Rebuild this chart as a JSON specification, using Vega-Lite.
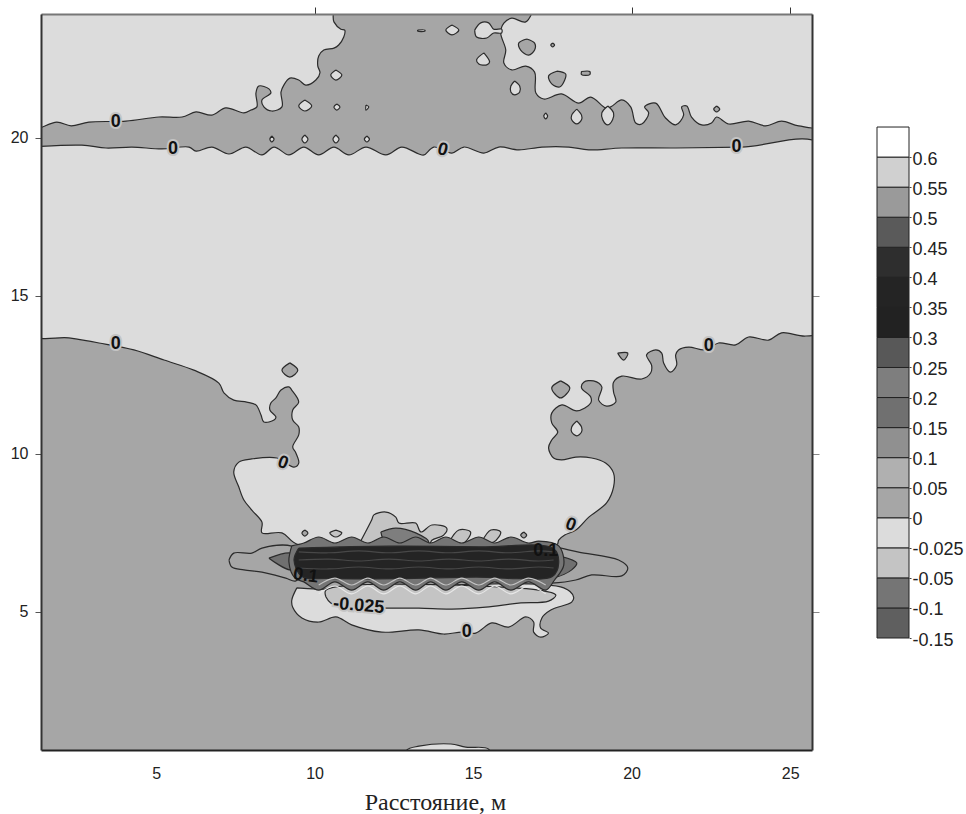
{"$schema":"https://vega.github.io/schema/vega-lite/v6.json","background":"white","padding":{"left":10,"top":6,"right":0,"bottom":0},"spacing":56,"config":{"view":{"stroke":null},"font":"Liberation Sans"},
"datasets":{
"polys":[
{"p":"A","b":"-0.025","x":1.0,"y":24.3},{"p":"A","b":"-0.025","x":10.48,"y":24.3},{"p":"A","b":"-0.025","x":10.61,"y":23.67},{"p":"A","b":"-0.025","x":10.83,"y":23.44},{"p":"A","b":"-0.025","x":10.95,"y":23.41},{"p":"A","b":"-0.025","x":10.92,"y":23.19},{"p":"A","b":"-0.025","x":10.76,"y":22.94},{"p":"A","b":"-0.025","x":10.61,"y":22.84},{"p":"A","b":"-0.025","x":10.29,"y":22.78},{"p":"A","b":"-0.025","x":10.13,"y":22.59},{"p":"A","b":"-0.025","x":10.10,"y":22.28},{"p":"A","b":"-0.025","x":10.17,"y":22.06},{"p":"A","b":"-0.025","x":10.04,"y":21.83},{"p":"A","b":"-0.025","x":9.72,"y":21.67},{"p":"A","b":"-0.025","x":9.50,"y":21.83},{"p":"A","b":"-0.025","x":9.22,"y":21.89},{"p":"A","b":"-0.025","x":9.03,"y":21.67},{"p":"A","b":"-0.025","x":8.94,"y":21.45},{"p":"A","b":"-0.025","x":8.97,"y":20.98},{"p":"A","b":"-0.025","x":8.65,"y":20.85},{"p":"A","b":"-0.025","x":8.40,"y":20.98},{"p":"A","b":"-0.025","x":8.34,"y":21.20},{"p":"A","b":"-0.025","x":8.62,"y":21.42},{"p":"A","b":"-0.025","x":8.56,"y":21.55},{"p":"A","b":"-0.025","x":8.24,"y":21.64},{"p":"A","b":"-0.025","x":8.15,"y":21.42},{"p":"A","b":"-0.025","x":8.18,"y":20.98},{"p":"A","b":"-0.025","x":7.99,"y":20.88},{"p":"A","b":"-0.025","x":7.77,"y":20.79},{"p":"A","b":"-0.025","x":7.20,"y":20.95},{"p":"A","b":"-0.025","x":6.76,"y":20.72},{"p":"A","b":"-0.025","x":6.26,"y":20.82},{"p":"A","b":"-0.025","x":5.82,"y":20.66},{"p":"A","b":"-0.025","x":5.09,"y":20.66},{"p":"A","b":"-0.025","x":4.05,"y":20.53},{"p":"A","b":"-0.025","x":2.88,"y":20.50},{"p":"A","b":"-0.025","x":2.32,"y":20.38},{"p":"A","b":"-0.025","x":1.87,"y":20.50},{"p":"A","b":"-0.025","x":1.0,"y":20.30},{"p":"A","b":"-0.025","x":1.0,"y":24.3},
{"p":"B","b":"-0.025","x":16.98,"y":24.3},{"p":"B","b":"-0.025","x":26.1,"y":24.3},{"p":"B","b":"-0.025","x":26.1,"y":20.41},{"p":"B","b":"-0.025","x":25.27,"y":20.38},{"p":"B","b":"-0.025","x":24.73,"y":20.53},{"p":"B","b":"-0.025","x":24.23,"y":20.38},{"p":"B","b":"-0.025","x":23.69,"y":20.53},{"p":"B","b":"-0.025","x":23.06,"y":20.44},{"p":"B","b":"-0.025","x":22.68,"y":20.66},{"p":"B","b":"-0.025","x":22.52,"y":20.47},{"p":"B","b":"-0.025","x":22.21,"y":20.41},{"p":"B","b":"-0.025","x":21.89,"y":20.66},{"p":"B","b":"-0.025","x":21.74,"y":21.01},{"p":"B","b":"-0.025","x":21.58,"y":20.98},{"p":"B","b":"-0.025","x":21.64,"y":20.72},{"p":"B","b":"-0.025","x":21.39,"y":20.41},{"p":"B","b":"-0.025","x":21.07,"y":20.63},{"p":"B","b":"-0.025","x":20.76,"y":21.10},{"p":"B","b":"-0.025","x":20.41,"y":20.98},{"p":"B","b":"-0.025","x":20.54,"y":20.79},{"p":"B","b":"-0.025","x":20.32,"y":20.44},{"p":"B","b":"-0.025","x":20.13,"y":20.47},{"p":"B","b":"-0.025","x":19.97,"y":20.98},{"p":"B","b":"-0.025","x":19.69,"y":21.20},{"p":"B","b":"-0.025","x":19.34,"y":20.98},{"p":"B","b":"-0.025","x":19.18,"y":20.95},{"p":"B","b":"-0.025","x":18.71,"y":21.29},{"p":"B","b":"-0.025","x":18.33,"y":21.10},{"p":"B","b":"-0.025","x":17.79,"y":21.39},{"p":"B","b":"-0.025","x":17.23,"y":21.23},{"p":"B","b":"-0.025","x":16.98,"y":21.42},{"p":"B","b":"-0.025","x":16.94,"y":22.08},{"p":"B","b":"-0.025","x":16.66,"y":22.27},{"p":"B","b":"-0.025","x":16.22,"y":22.15},{"p":"B","b":"-0.025","x":15.97,"y":22.37},{"p":"B","b":"-0.025","x":16.03,"y":22.78},{"p":"B","b":"-0.025","x":15.87,"y":23.32},{"p":"B","b":"-0.025","x":15.97,"y":23.63},{"p":"B","b":"-0.025","x":16.22,"y":23.79},{"p":"B","b":"-0.025","x":16.66,"y":23.67},{"p":"B","b":"-0.025","x":16.98,"y":24.3},
{"p":"C","b":"-0.025","x":1.0,"y":19.71},{"p":"C","b":"-0.025","x":2.66,"y":19.77},{"p":"C","b":"-0.025","x":3.42,"y":19.68},{"p":"C","b":"-0.025","x":4.24,"y":19.71},{"p":"C","b":"-0.025","x":5.18,"y":19.65},{"p":"C","b":"-0.025","x":6.04,"y":19.71},{"p":"C","b":"-0.025","x":6.26,"y":19.58},{"p":"C","b":"-0.025","x":6.76,"y":19.71},{"p":"C","b":"-0.025","x":7.30,"y":19.49},{"p":"C","b":"-0.025","x":7.83,"y":19.71},{"p":"C","b":"-0.025","x":8.34,"y":19.46},{"p":"C","b":"-0.025","x":8.72,"y":19.71},{"p":"C","b":"-0.025","x":9.19,"y":19.46},{"p":"C","b":"-0.025","x":9.66,"y":19.71},{"p":"C","b":"-0.025","x":10.13,"y":19.46},{"p":"C","b":"-0.025","x":10.61,"y":19.71},{"p":"C","b":"-0.025","x":11.08,"y":19.46},{"p":"C","b":"-0.025","x":11.62,"y":19.71},{"p":"C","b":"-0.025","x":12.25,"y":19.46},{"p":"C","b":"-0.025","x":12.75,"y":19.71},{"p":"C","b":"-0.025","x":13.29,"y":19.49},{"p":"C","b":"-0.025","x":13.45,"y":19.46},{"p":"C","b":"-0.025","x":13.76,"y":19.71},{"p":"C","b":"-0.025","x":14.33,"y":19.52},{"p":"C","b":"-0.025","x":14.71,"y":19.71},{"p":"C","b":"-0.025","x":15.34,"y":19.52},{"p":"C","b":"-0.025","x":15.81,"y":19.71},{"p":"C","b":"-0.025","x":16.44,"y":19.62},{"p":"C","b":"-0.025","x":17.17,"y":19.71},{"p":"C","b":"-0.025","x":18.02,"y":19.71},{"p":"C","b":"-0.025","x":18.65,"y":19.62},{"p":"C","b":"-0.025","x":19.69,"y":19.68},{"p":"C","b":"-0.025","x":21.39,"y":19.68},{"p":"C","b":"-0.025","x":23.47,"y":19.71},{"p":"C","b":"-0.025","x":26.1,"y":19.74},{"p":"C","b":"-0.025","x":26.1,"y":13.92},{"p":"C","b":"-0.025","x":25.49,"y":13.73},{"p":"C","b":"-0.025","x":24.73,"y":13.83},{"p":"C","b":"-0.025","x":24.32,"y":13.60},{"p":"C","b":"-0.025","x":23.69,"y":13.70},{"p":"C","b":"-0.025","x":23.28,"y":13.45},{"p":"C","b":"-0.025","x":22.74,"y":13.51},{"p":"C","b":"-0.025","x":22.33,"y":13.29},{"p":"C","b":"-0.025","x":21.80,"y":13.38},{"p":"C","b":"-0.025","x":21.48,"y":13.29},{"p":"C","b":"-0.025","x":21.39,"y":13.13},{"p":"C","b":"-0.025","x":21.42,"y":12.81},{"p":"C","b":"-0.025","x":21.23,"y":12.59},{"p":"C","b":"-0.025","x":21.01,"y":12.88},{"p":"C","b":"-0.025","x":20.95,"y":13.19},{"p":"C","b":"-0.025","x":20.76,"y":13.29},{"p":"C","b":"-0.025","x":20.47,"y":13.13},{"p":"C","b":"-0.025","x":20.63,"y":12.81},{"p":"C","b":"-0.025","x":20.60,"y":12.56},{"p":"C","b":"-0.025","x":20.32,"y":12.37},{"p":"C","b":"-0.025","x":19.69,"y":12.46},{"p":"C","b":"-0.025","x":19.43,"y":12.27},{"p":"C","b":"-0.025","x":19.43,"y":11.96},{"p":"C","b":"-0.025","x":19.50,"y":11.64},{"p":"C","b":"-0.025","x":19.21,"y":11.51},{"p":"C","b":"-0.025","x":18.96,"y":11.70},{"p":"C","b":"-0.025","x":19.06,"y":12.12},{"p":"C","b":"-0.025","x":18.80,"y":12.31},{"p":"C","b":"-0.025","x":18.49,"y":12.27},{"p":"C","b":"-0.025","x":18.42,"y":12.09},{"p":"C","b":"-0.025","x":18.71,"y":11.80},{"p":"C","b":"-0.025","x":18.71,"y":11.61},{"p":"C","b":"-0.025","x":18.27,"y":11.36},{"p":"C","b":"-0.025","x":17.80,"y":11.55},{"p":"C","b":"-0.025","x":17.48,"y":11.29},{"p":"C","b":"-0.025","x":17.48,"y":10.98},{"p":"C","b":"-0.025","x":17.67,"y":10.69},{"p":"C","b":"-0.025","x":17.48,"y":10.44},{"p":"C","b":"-0.025","x":17.38,"y":10.19},{"p":"C","b":"-0.025","x":17.54,"y":9.87},{"p":"C","b":"-0.025","x":17.79,"y":9.81},{"p":"C","b":"-0.025","x":18.24,"y":9.90},{"p":"C","b":"-0.025","x":18.74,"y":9.87},{"p":"C","b":"-0.025","x":19.18,"y":9.71},{"p":"C","b":"-0.025","x":19.43,"y":9.39},{"p":"C","b":"-0.025","x":19.43,"y":8.95},{"p":"C","b":"-0.025","x":19.21,"y":8.45},{"p":"C","b":"-0.025","x":18.65,"y":8.00},{"p":"C","b":"-0.025","x":18.24,"y":7.59},{"p":"C","b":"-0.025","x":17.89,"y":7.43},{"p":"C","b":"-0.025","x":17.70,"y":7.27},{"p":"C","b":"-0.025","x":17.64,"y":7.12},{"p":"C","b":"-0.025","x":9.50,"y":7.12},{"p":"C","b":"-0.025","x":8.97,"y":7.50},{"p":"C","b":"-0.025","x":8.34,"y":7.50},{"p":"C","b":"-0.025","x":8.34,"y":7.84},{"p":"C","b":"-0.025","x":8.02,"y":8.22},{"p":"C","b":"-0.025","x":7.77,"y":8.54},{"p":"C","b":"-0.025","x":7.61,"y":8.95},{"p":"C","b":"-0.025","x":7.45,"y":9.43},{"p":"C","b":"-0.025","x":7.61,"y":9.74},{"p":"C","b":"-0.025","x":8.02,"y":9.84},{"p":"C","b":"-0.025","x":8.81,"y":9.87},{"p":"C","b":"-0.025","x":9.35,"y":9.58},{"p":"C","b":"-0.025","x":9.50,"y":9.71},{"p":"C","b":"-0.025","x":9.41,"y":10.03},{"p":"C","b":"-0.025","x":9.31,"y":10.22},{"p":"C","b":"-0.025","x":9.50,"y":10.60},{"p":"C","b":"-0.025","x":9.50,"y":10.85},{"p":"C","b":"-0.025","x":9.31,"y":11.07},{"p":"C","b":"-0.025","x":9.31,"y":11.39},{"p":"C","b":"-0.025","x":9.50,"y":11.64},{"p":"C","b":"-0.025","x":9.28,"y":12.02},{"p":"C","b":"-0.025","x":9.19,"y":12.12},{"p":"C","b":"-0.025","x":8.94,"y":12.02},{"p":"C","b":"-0.025","x":8.78,"y":11.77},{"p":"C","b":"-0.025","x":8.62,"y":11.61},{"p":"C","b":"-0.025","x":8.59,"y":11.39},{"p":"C","b":"-0.025","x":8.78,"y":11.17},{"p":"C","b":"-0.025","x":8.72,"y":11.07},{"p":"C","b":"-0.025","x":8.40,"y":11.01},{"p":"C","b":"-0.025","x":8.31,"y":11.23},{"p":"C","b":"-0.025","x":8.15,"y":11.55},{"p":"C","b":"-0.025","x":7.86,"y":11.64},{"p":"C","b":"-0.025","x":7.45,"y":11.70},{"p":"C","b":"-0.025","x":7.14,"y":11.93},{"p":"C","b":"-0.025","x":6.98,"y":12.24},{"p":"C","b":"-0.025","x":6.19,"y":12.65},{"p":"C","b":"-0.025","x":5.25,"y":12.97},{"p":"C","b":"-0.025","x":4.30,"y":13.29},{"p":"C","b":"-0.025","x":3.20,"y":13.51},{"p":"C","b":"-0.025","x":2.25,"y":13.67},{"p":"C","b":"-0.025","x":1.0,"y":13.83},{"p":"C","b":"-0.025","x":1.0,"y":19.71},
{"p":"b1","b":"-0.025","x":15.05,"y":23.41},{"p":"b1","b":"-0.025","x":15.24,"y":23.64},{"p":"b1","b":"-0.025","x":15.49,"y":23.64},{"p":"b1","b":"-0.025","x":15.65,"y":23.44},{"p":"b1","b":"-0.025","x":15.90,"y":23.44},{"p":"b1","b":"-0.025","x":15.90,"y":23.32},{"p":"b1","b":"-0.025","x":15.65,"y":23.32},{"p":"b1","b":"-0.025","x":15.43,"y":23.16},{"p":"b1","b":"-0.025","x":15.11,"y":23.19},{"p":"b1","b":"-0.025","x":15.05,"y":23.41},
{"p":"b2","b":"-0.025","x":14.33,"y":23.57},{"p":"b2","b":"-0.025","x":14.55,"y":23.41},{"p":"b2","b":"-0.025","x":14.33,"y":23.26},{"p":"b2","b":"-0.025","x":14.14,"y":23.41},{"p":"b2","b":"-0.025","x":14.33,"y":23.57},
{"p":"b3","b":"-0.025","x":15.34,"y":22.69},{"p":"b3","b":"-0.025","x":15.52,"y":22.40},{"p":"b3","b":"-0.025","x":15.43,"y":22.31},{"p":"b3","b":"-0.025","x":15.18,"y":22.34},{"p":"b3","b":"-0.025","x":15.11,"y":22.47},{"p":"b3","b":"-0.025","x":15.34,"y":22.69},
{"p":"b4","b":"-0.025","x":16.31,"y":21.80},{"p":"b4","b":"-0.025","x":16.47,"y":21.64},{"p":"b4","b":"-0.025","x":16.47,"y":21.45},{"p":"b4","b":"-0.025","x":16.31,"y":21.36},{"p":"b4","b":"-0.025","x":16.19,"y":21.45},{"p":"b4","b":"-0.025","x":16.19,"y":21.64},{"p":"b4","b":"-0.025","x":16.31,"y":21.80},
{"p":"b5","b":"-0.025","x":18.27,"y":20.91},{"p":"b5","b":"-0.025","x":18.42,"y":20.72},{"p":"b5","b":"-0.025","x":18.42,"y":20.57},{"p":"b5","b":"-0.025","x":18.27,"y":20.44},{"p":"b5","b":"-0.025","x":18.11,"y":20.57},{"p":"b5","b":"-0.025","x":18.11,"y":20.72},{"p":"b5","b":"-0.025","x":18.27,"y":20.91},
{"p":"b6","b":"-0.025","x":19.25,"y":21.01},{"p":"b6","b":"-0.025","x":19.43,"y":20.79},{"p":"b6","b":"-0.025","x":19.40,"y":20.57},{"p":"b6","b":"-0.025","x":19.25,"y":20.41},{"p":"b6","b":"-0.025","x":19.09,"y":20.57},{"p":"b6","b":"-0.025","x":19.06,"y":20.79},{"p":"b6","b":"-0.025","x":19.25,"y":21.01},
{"p":"b7","b":"-0.025","x":10.67,"y":22.15},{"p":"b7","b":"-0.025","x":10.86,"y":21.99},{"p":"b7","b":"-0.025","x":10.67,"y":21.83},{"p":"b7","b":"-0.025","x":10.51,"y":21.99},{"p":"b7","b":"-0.025","x":10.67,"y":22.15},
{"p":"b8","b":"-0.025","x":9.69,"y":21.20},{"p":"b8","b":"-0.025","x":9.91,"y":21.01},{"p":"b8","b":"-0.025","x":9.69,"y":20.85},{"p":"b8","b":"-0.025","x":9.50,"y":21.01},{"p":"b8","b":"-0.025","x":9.69,"y":21.20},
{"p":"b9","b":"-0.025","x":10.70,"y":21.07},{"p":"b9","b":"-0.025","x":10.80,"y":20.98},{"p":"b9","b":"-0.025","x":10.70,"y":20.88},{"p":"b9","b":"-0.025","x":10.61,"y":20.98},{"p":"b9","b":"-0.025","x":10.70,"y":21.07},
{"p":"b11","b":"-0.025","x":11.62,"y":21.04},{"p":"b11","b":"-0.025","x":11.71,"y":20.98},{"p":"b11","b":"-0.025","x":11.62,"y":20.88},{"p":"b11","b":"-0.025","x":11.62,"y":21.04},
{"p":"b12","b":"-0.025","x":8.65,"y":20.06},{"p":"b12","b":"-0.025","x":8.72,"y":19.96},{"p":"b12","b":"-0.025","x":8.65,"y":19.87},{"p":"b12","b":"-0.025","x":8.59,"y":19.96},{"p":"b12","b":"-0.025","x":8.65,"y":20.06},
{"p":"b13","b":"-0.025","x":9.69,"y":20.09},{"p":"b13","b":"-0.025","x":9.79,"y":19.96},{"p":"b13","b":"-0.025","x":9.69,"y":19.84},{"p":"b13","b":"-0.025","x":9.60,"y":19.96},{"p":"b13","b":"-0.025","x":9.69,"y":20.09},
{"p":"b14","b":"-0.025","x":10.67,"y":20.09},{"p":"b14","b":"-0.025","x":10.77,"y":19.96},{"p":"b14","b":"-0.025","x":10.67,"y":19.84},{"p":"b14","b":"-0.025","x":10.58,"y":19.96},{"p":"b14","b":"-0.025","x":10.67,"y":20.09},
{"p":"b15","b":"-0.025","x":11.65,"y":20.06},{"p":"b15","b":"-0.025","x":11.73,"y":19.96},{"p":"b15","b":"-0.025","x":11.65,"y":19.87},{"p":"b15","b":"-0.025","x":11.57,"y":19.96},{"p":"b15","b":"-0.025","x":11.65,"y":20.06},
{"p":"lens","b":"-0.025","x":12.91,"y":0.3},{"p":"lens","b":"-0.025","x":12.91,"y":0.63},{"p":"lens","b":"-0.025","x":13.29,"y":0.75},{"p":"lens","b":"-0.025","x":14.30,"y":0.82},{"p":"lens","b":"-0.025","x":14.77,"y":0.72},{"p":"lens","b":"-0.025","x":15.49,"y":0.66},{"p":"lens","b":"-0.025","x":15.49,"y":0.3},
{"p":"g1","b":"0","x":16.69,"y":23.13},{"p":"g1","b":"0","x":16.94,"y":23.00},{"p":"g1","b":"0","x":16.94,"y":22.78},{"p":"g1","b":"0","x":16.75,"y":22.62},{"p":"g1","b":"0","x":16.50,"y":22.78},{"p":"g1","b":"0","x":16.44,"y":23.00},{"p":"g1","b":"0","x":16.69,"y":23.13},
{"p":"g2","b":"0","x":17.64,"y":22.11},{"p":"g2","b":"0","x":17.92,"y":22.02},{"p":"g2","b":"0","x":17.89,"y":21.83},{"p":"g2","b":"0","x":17.73,"y":21.61},{"p":"g2","b":"0","x":17.48,"y":21.71},{"p":"g2","b":"0","x":17.38,"y":21.96},{"p":"g2","b":"0","x":17.64,"y":22.11},
{"p":"g3","b":"0","x":17.51,"y":23.00},{"p":"g3","b":"0","x":17.57,"y":22.94},{"p":"g3","b":"0","x":17.51,"y":22.88},{"p":"g3","b":"0","x":17.45,"y":22.94},{"p":"g3","b":"0","x":17.51,"y":23.00},
{"p":"g4","b":"0","x":18.42,"y":22.10},{"p":"g4","b":"0","x":18.68,"y":22.10},{"p":"g4","b":"0","x":18.68,"y":22.00},{"p":"g4","b":"0","x":18.42,"y":22.00},{"p":"g4","b":"0","x":18.42,"y":22.10},
{"p":"g5","b":"0","x":22.68,"y":21.01},{"p":"g5","b":"0","x":22.78,"y":20.91},{"p":"g5","b":"0","x":22.68,"y":20.82},{"p":"g5","b":"0","x":22.59,"y":20.91},{"p":"g5","b":"0","x":22.68,"y":21.01},
{"p":"g6","b":"-0.025","x":13.25,"y":23.41},{"p":"g6","b":"-0.025","x":13.48,"y":23.41},{"p":"g6","b":"-0.025","x":13.48,"y":23.38},{"p":"g6","b":"-0.025","x":13.25,"y":23.38},{"p":"g6","b":"-0.025","x":13.25,"y":23.41},
{"p":"g7","b":"-0.025","x":17.29,"y":20.79},{"p":"g7","b":"-0.025","x":17.35,"y":20.69},{"p":"g7","b":"-0.025","x":17.29,"y":20.60},{"p":"g7","b":"-0.025","x":17.23,"y":20.69},{"p":"g7","b":"-0.025","x":17.29,"y":20.79},
{"p":"d1","b":"0","x":9.22,"y":12.88},{"p":"d1","b":"0","x":9.47,"y":12.65},{"p":"d1","b":"0","x":9.22,"y":12.43},{"p":"d1","b":"0","x":8.97,"y":12.65},{"p":"d1","b":"0","x":9.22,"y":12.88},
{"p":"d2","b":"0","x":19.56,"y":13.19},{"p":"d2","b":"0","x":19.88,"y":13.19},{"p":"d2","b":"0","x":19.75,"y":12.97},{"p":"d2","b":"0","x":19.56,"y":13.19},
{"p":"d3","b":"0","x":17.76,"y":12.31},{"p":"d3","b":"0","x":18.05,"y":12.09},{"p":"d3","b":"0","x":17.76,"y":11.77},{"p":"d3","b":"0","x":17.48,"y":12.09},{"p":"d3","b":"0","x":17.76,"y":12.31},
{"p":"d4","b":"-0.025","x":18.27,"y":11.04},{"p":"d4","b":"-0.025","x":18.42,"y":10.85},{"p":"d4","b":"-0.025","x":18.42,"y":10.69},{"p":"d4","b":"-0.025","x":18.27,"y":10.57},{"p":"d4","b":"-0.025","x":18.11,"y":10.69},{"p":"d4","b":"-0.025","x":18.11,"y":10.85},{"p":"d4","b":"-0.025","x":18.27,"y":11.04},
{"p":"L1","b":"0","x":7.30,"y":6.64},{"p":"L1","b":"0","x":7.45,"y":6.86},{"p":"L1","b":"0","x":8.02,"y":6.86},{"p":"L1","b":"0","x":8.34,"y":7.02},{"p":"L1","b":"0","x":9.28,"y":7.08},{"p":"L1","b":"0","x":9.82,"y":6.64},{"p":"L1","b":"0","x":9.41,"y":5.98},{"p":"L1","b":"0","x":9.09,"y":6.07},{"p":"L1","b":"0","x":8.34,"y":6.26},{"p":"L1","b":"0","x":7.77,"y":6.33},{"p":"L1","b":"0","x":7.39,"y":6.42},{"p":"L1","b":"0","x":7.30,"y":6.64},
{"p":"L2","b":"0.15","x":8.56,"y":6.70},{"p":"L2","b":"0.15","x":9.25,"y":6.86},{"p":"L2","b":"0.15","x":9.50,"y":6.64},{"p":"L2","b":"0.15","x":9.28,"y":6.33},{"p":"L2","b":"0.15","x":8.56,"y":6.70},
{"p":"R1","b":"0","x":17.07,"y":7.12},{"p":"R1","b":"0","x":17.61,"y":7.05},{"p":"R1","b":"0","x":18.33,"y":6.89},{"p":"R1","b":"0","x":19.59,"y":6.64},{"p":"R1","b":"0","x":19.88,"y":6.39},{"p":"R1","b":"0","x":19.69,"y":6.14},{"p":"R1","b":"0","x":18.74,"y":6.17},{"p":"R1","b":"0","x":18.24,"y":6.01},{"p":"R1","b":"0","x":17.48,"y":5.91},{"p":"R1","b":"0","x":17.07,"y":5.91},{"p":"R1","b":"0","x":17.07,"y":7.12},
{"p":"R2","b":"0.15","x":17.38,"y":6.86},{"p":"R2","b":"0.15","x":17.61,"y":6.80},{"p":"R2","b":"0.15","x":18.27,"y":6.55},{"p":"R2","b":"0.15","x":18.11,"y":6.33},{"p":"R2","b":"0.15","x":17.61,"y":6.10},{"p":"R2","b":"0.15","x":17.38,"y":6.10},{"p":"R2","b":"0.15","x":17.38,"y":6.86},
{"p":"D","b":"-0.025","x":9.44,"y":5.76},{"p":"D","b":"-0.025","x":10.13,"y":5.72},{"p":"D","b":"-0.025","x":17.86,"y":5.76},{"p":"D","b":"-0.025","x":18.17,"y":5.47},{"p":"D","b":"-0.025","x":18.11,"y":5.31},{"p":"D","b":"-0.025","x":17.45,"y":5.06},{"p":"D","b":"-0.025","x":17.17,"y":4.81},{"p":"D","b":"-0.025","x":17.13,"y":4.49},{"p":"D","b":"-0.025","x":17.38,"y":4.33},{"p":"D","b":"-0.025","x":17.13,"y":4.20},{"p":"D","b":"-0.025","x":16.91,"y":4.36},{"p":"D","b":"-0.025","x":16.91,"y":4.68},{"p":"D","b":"-0.025","x":16.66,"y":4.84},{"p":"D","b":"-0.025","x":16.12,"y":4.52},{"p":"D","b":"-0.025","x":15.59,"y":4.65},{"p":"D","b":"-0.025","x":15.08,"y":4.33},{"p":"D","b":"-0.025","x":14.64,"y":4.36},{"p":"D","b":"-0.025","x":14.07,"y":4.30},{"p":"D","b":"-0.025","x":13.29,"y":4.43},{"p":"D","b":"-0.025","x":12.12,"y":4.36},{"p":"D","b":"-0.025","x":11.17,"y":4.59},{"p":"D","b":"-0.025","x":10.67,"y":4.84},{"p":"D","b":"-0.025","x":10.13,"y":4.68},{"p":"D","b":"-0.025","x":9.60,"y":4.81},{"p":"D","b":"-0.025","x":9.31,"y":5.15},{"p":"D","b":"-0.025","x":9.28,"y":5.37},{"p":"D","b":"-0.025","x":9.44,"y":5.76},
{"p":"E","b":"-0.05","x":10.36,"y":5.47},{"p":"E","b":"-0.05","x":10.51,"y":5.28},{"p":"E","b":"-0.05","x":11.08,"y":5.15},{"p":"E","b":"-0.05","x":12.25,"y":5.12},{"p":"E","b":"-0.05","x":13.29,"y":5.12},{"p":"E","b":"-0.05","x":14.33,"y":5.09},{"p":"E","b":"-0.05","x":15.40,"y":5.15},{"p":"E","b":"-0.05","x":16.44,"y":5.28},{"p":"E","b":"-0.05","x":17.38,"y":5.34},{"p":"E","b":"-0.05","x":17.61,"y":5.53},{"p":"E","b":"-0.05","x":17.07,"y":5.69},{"p":"E","b":"-0.05","x":10.36,"y":5.69},{"p":"E","b":"-0.05","x":10.36,"y":5.47},
{"p":"T1","b":"-0.05","x":11.39,"y":7.12},{"p":"T1","b":"-0.05","x":11.80,"y":7.91},{"p":"T1","b":"-0.05","x":11.87,"y":8.07},{"p":"T1","b":"-0.05","x":12.25,"y":8.16},{"p":"T1","b":"-0.05","x":12.56,"y":8.00},{"p":"T1","b":"-0.05","x":12.66,"y":7.81},{"p":"T1","b":"-0.05","x":13.19,"y":7.81},{"p":"T1","b":"-0.05","x":13.35,"y":7.53},{"p":"T1","b":"-0.05","x":13.70,"y":7.75},{"p":"T1","b":"-0.05","x":14.17,"y":7.65},{"p":"T1","b":"-0.05","x":14.07,"y":7.43},{"p":"T1","b":"-0.05","x":13.70,"y":7.27},{"p":"T1","b":"-0.05","x":13.60,"y":7.12},{"p":"T1","b":"-0.05","x":11.39,"y":7.12},
{"p":"T2","b":"0.2","x":12.09,"y":7.53},{"p":"T2","b":"0.2","x":12.56,"y":7.65},{"p":"T2","b":"0.2","x":13.19,"y":7.50},{"p":"T2","b":"0.2","x":13.60,"y":7.21},{"p":"T2","b":"0.2","x":13.29,"y":7.02},{"p":"T2","b":"0.2","x":12.25,"y":7.18},{"p":"T2","b":"0.2","x":12.09,"y":7.53},
{"p":"T3","b":"-0.05","x":14.23,"y":7.18},{"p":"T3","b":"-0.05","x":14.55,"y":7.59},{"p":"T3","b":"-0.05","x":14.92,"y":7.53},{"p":"T3","b":"-0.05","x":14.71,"y":7.18},{"p":"T3","b":"-0.05","x":14.23,"y":7.18},
{"p":"T4","b":"-0.05","x":15.27,"y":7.21},{"p":"T4","b":"-0.05","x":15.56,"y":7.59},{"p":"T4","b":"-0.05","x":15.87,"y":7.53},{"p":"T4","b":"-0.05","x":15.65,"y":7.21},{"p":"T4","b":"-0.05","x":15.27,"y":7.21},
{"p":"T5","b":"0","x":16.60,"y":7.53},{"p":"T5","b":"0","x":16.69,"y":7.43},{"p":"T5","b":"0","x":16.60,"y":7.34},{"p":"T5","b":"0","x":16.50,"y":7.43},{"p":"T5","b":"0","x":16.60,"y":7.53},
{"p":"T6","b":"-0.05","x":10.67,"y":7.59},{"p":"T6","b":"-0.05","x":10.86,"y":7.50},{"p":"T6","b":"-0.05","x":10.67,"y":7.37},{"p":"T6","b":"-0.05","x":10.48,"y":7.50},{"p":"T6","b":"-0.05","x":10.67,"y":7.59},
{"p":"T7","b":"0","x":9.69,"y":7.59},{"p":"T7","b":"0","x":9.79,"y":7.50},{"p":"T7","b":"0","x":9.69,"y":7.40},{"p":"T7","b":"0","x":9.60,"y":7.50},{"p":"T7","b":"0","x":9.69,"y":7.59},
{"p":"H1","b":"-0.1","x":9.28,"y":7.09},{"p":"H1","b":"-0.1","x":9.66,"y":7.18},{"p":"H1","b":"-0.1","x":10.13,"y":7.37},{"p":"H1","b":"-0.1","x":10.64,"y":7.18},{"p":"H1","b":"-0.1","x":11.17,"y":7.37},{"p":"H1","b":"-0.1","x":11.68,"y":7.18},{"p":"H1","b":"-0.1","x":12.18,"y":7.37},{"p":"H1","b":"-0.1","x":12.69,"y":7.18},{"p":"H1","b":"-0.1","x":13.19,"y":7.37},{"p":"H1","b":"-0.1","x":13.66,"y":7.18},{"p":"H1","b":"-0.1","x":14.14,"y":7.37},{"p":"H1","b":"-0.1","x":14.64,"y":7.18},{"p":"H1","b":"-0.1","x":15.18,"y":7.37},{"p":"H1","b":"-0.1","x":15.68,"y":7.18},{"p":"H1","b":"-0.1","x":16.19,"y":7.37},{"p":"H1","b":"-0.1","x":16.75,"y":7.18},{"p":"H1","b":"-0.1","x":17.07,"y":7.24},{"p":"H1","b":"-0.1","x":17.70,"y":7.09},{"p":"H1","b":"-0.1","x":17.86,"y":6.48},{"p":"H1","b":"-0.1","x":17.57,"y":6.01},{"p":"H1","b":"-0.1","x":17.29,"y":5.69},{"p":"H1","b":"-0.1","x":16.75,"y":5.95},{"p":"H1","b":"-0.1","x":16.19,"y":5.69},{"p":"H1","b":"-0.1","x":15.68,"y":5.95},{"p":"H1","b":"-0.1","x":15.18,"y":5.69},{"p":"H1","b":"-0.1","x":14.64,"y":5.95},{"p":"H1","b":"-0.1","x":14.14,"y":5.69},{"p":"H1","b":"-0.1","x":13.66,"y":5.95},{"p":"H1","b":"-0.1","x":13.19,"y":5.69},{"p":"H1","b":"-0.1","x":12.69,"y":5.95},{"p":"H1","b":"-0.1","x":12.18,"y":5.69},{"p":"H1","b":"-0.1","x":11.68,"y":5.95},{"p":"H1","b":"-0.1","x":11.17,"y":5.69},{"p":"H1","b":"-0.1","x":10.64,"y":5.95},{"p":"H1","b":"-0.1","x":10.13,"y":5.69},{"p":"H1","b":"-0.1","x":9.66,"y":5.95},{"p":"H1","b":"-0.1","x":9.38,"y":6.07},{"p":"H1","b":"-0.1","x":9.19,"y":6.58},{"p":"H1","b":"-0.1","x":9.28,"y":7.09},
{"p":"K","b":"0.35","x":9.50,"y":7.02},{"p":"K","b":"0.35","x":12.34,"y":7.08},{"p":"K","b":"0.35","x":15.18,"y":7.06},{"p":"K","b":"0.35","x":17.54,"y":7.00},{"p":"K","b":"0.35","x":17.70,"y":6.55},{"p":"K","b":"0.35","x":17.50,"y":6.12},{"p":"K","b":"0.35","x":16.44,"y":6.05},{"p":"K","b":"0.35","x":15.18,"y":6.10},{"p":"K","b":"0.35","x":12.66,"y":6.05},{"p":"K","b":"0.35","x":10.45,"y":6.06},{"p":"K","b":"0.35","x":9.60,"y":6.12},{"p":"K","b":"0.35","x":9.35,"y":6.64},{"p":"K","b":"0.35","x":9.50,"y":7.02}
],
"lines":[
{"p":"s1","b":"-0.025","x":17.29,"y":5.57},{"p":"s1","b":"-0.025","x":16.75,"y":5.82},{"p":"s1","b":"-0.025","x":16.19,"y":5.57},{"p":"s1","b":"-0.025","x":15.68,"y":5.82},{"p":"s1","b":"-0.025","x":15.18,"y":5.57},{"p":"s1","b":"-0.025","x":14.64,"y":5.82},{"p":"s1","b":"-0.025","x":14.14,"y":5.57},{"p":"s1","b":"-0.025","x":13.66,"y":5.82},{"p":"s1","b":"-0.025","x":13.19,"y":5.57},{"p":"s1","b":"-0.025","x":12.69,"y":5.82},{"p":"s1","b":"-0.025","x":12.18,"y":5.57},{"p":"s1","b":"-0.025","x":11.68,"y":5.82},{"p":"s1","b":"-0.025","x":11.17,"y":5.57},{"p":"s1","b":"-0.025","x":10.64,"y":5.82},{"p":"s1","b":"-0.025","x":10.13,"y":5.57},
{"p":"s2","b":"-0.05","x":17.29,"y":5.85},{"p":"s2","b":"-0.05","x":16.75,"y":6.07},{"p":"s2","b":"-0.05","x":16.19,"y":5.85},{"p":"s2","b":"-0.05","x":15.68,"y":6.07},{"p":"s2","b":"-0.05","x":15.18,"y":5.85},{"p":"s2","b":"-0.05","x":14.64,"y":6.07},{"p":"s2","b":"-0.05","x":14.14,"y":5.85},{"p":"s2","b":"-0.05","x":13.66,"y":6.07},{"p":"s2","b":"-0.05","x":13.19,"y":5.85},{"p":"s2","b":"-0.05","x":12.69,"y":6.07},{"p":"s2","b":"-0.05","x":12.18,"y":5.85},{"p":"s2","b":"-0.05","x":11.68,"y":6.07},{"p":"s2","b":"-0.05","x":11.17,"y":5.85},{"p":"s2","b":"-0.05","x":10.64,"y":6.07},{"p":"s2","b":"-0.05","x":10.13,"y":5.85},
{"p":"t1","b":"-0.15","x":9.50,"y":6.90},{"p":"t1","b":"-0.15","x":10.45,"y":6.87},{"p":"t1","b":"-0.15","x":11.39,"y":6.93},{"p":"t1","b":"-0.15","x":12.34,"y":6.87},{"p":"t1","b":"-0.15","x":13.29,"y":6.93},{"p":"t1","b":"-0.15","x":14.23,"y":6.87},{"p":"t1","b":"-0.15","x":15.18,"y":6.93},{"p":"t1","b":"-0.15","x":16.12,"y":6.87},{"p":"t1","b":"-0.15","x":17.07,"y":6.93},{"p":"t1","b":"-0.15","x":17.54,"y":6.90},
{"p":"t2","b":"-0.15","x":9.50,"y":6.64},{"p":"t2","b":"-0.15","x":10.45,"y":6.67},{"p":"t2","b":"-0.15","x":11.39,"y":6.61},{"p":"t2","b":"-0.15","x":12.34,"y":6.67},{"p":"t2","b":"-0.15","x":13.29,"y":6.61},{"p":"t2","b":"-0.15","x":14.23,"y":6.67},{"p":"t2","b":"-0.15","x":15.18,"y":6.61},{"p":"t2","b":"-0.15","x":16.12,"y":6.67},{"p":"t2","b":"-0.15","x":17.07,"y":6.61},{"p":"t2","b":"-0.15","x":17.54,"y":6.64},
{"p":"t3","b":"-0.15","x":9.50,"y":6.39},{"p":"t3","b":"-0.15","x":10.45,"y":6.36},{"p":"t3","b":"-0.15","x":11.39,"y":6.42},{"p":"t3","b":"-0.15","x":12.34,"y":6.36},{"p":"t3","b":"-0.15","x":13.29,"y":6.42},{"p":"t3","b":"-0.15","x":14.23,"y":6.36},{"p":"t3","b":"-0.15","x":15.18,"y":6.42},{"p":"t3","b":"-0.15","x":16.12,"y":6.36},{"p":"t3","b":"-0.15","x":17.07,"y":6.42},{"p":"t3","b":"-0.15","x":17.54,"y":6.39}
],
"labels":[
{"t":"0","x":3.73,"y":20.50,"a":0},{"t":"0","x":5.53,"y":19.65,"a":0},{"t":"0","x":14.04,"y":19.62,"a":15},{"t":"0","x":23.31,"y":19.71,"a":0},{"t":"0","x":3.73,"y":13.48,"a":0},{"t":"0","x":9.00,"y":9.71,"a":20},{"t":"0","x":22.43,"y":13.41,"a":0},{"t":"0","x":18.08,"y":7.75,"a":20},{"t":"0","x":14.80,"y":4.36,"a":0},{"t":"-0.025","x":11.39,"y":5.19,"a":5},{"t":"0.1","x":9.72,"y":6.14,"a":8},{"t":"0.1","x":17.29,"y":6.93,"a":0}
],
"levels":[
{"b":"-0.15","i":0,"i2":1},{"b":"-0.1","i":1,"i2":2},{"b":"-0.05","i":2,"i2":3},{"b":"-0.025","i":3,"i2":4},{"b":"0","i":4,"i2":5},{"b":"0.05","i":5,"i2":6},{"b":"0.1","i":6,"i2":7},{"b":"0.15","i":7,"i2":8},{"b":"0.2","i":8,"i2":9},{"b":"0.25","i":9,"i2":10},{"b":"0.3","i":10,"i2":11},{"b":"0.35","i":11,"i2":12},{"b":"0.4","i":12,"i2":13},{"b":"0.45","i":13,"i2":14},{"b":"0.5","i":14,"i2":15},{"b":"0.55","i":15,"i2":16},{"b":"0.6","i":16,"i2":17}
]},
"hconcat":[
{"width":771,"height":736,"view":{"fill":"#a6a6a6"},"resolve":{"axis":{"x":"independent","y":"independent"}},
"layer":[
{"data":{"name":"polys"},"mark":{"type":"line","filled":true,"stroke":"#2b2b2b","strokeWidth":1.2,"interpolate":"catmull-rom","clip":true},
"encoding":{"x":{"field":"x","type":"quantitative","scale":{"domain":[1.37,25.69],"nice":false,"zero":false},"axis":{"orient":"bottom","values":[5,10,15,20,25],"grid":false,"ticks":false,"labelFontSize":16,"labelColor":"#222","labelPadding":15,"domainColor":"#222","domainWidth":2,"title":"Расстояние, м","titleFont":"Liberation Serif","titleFontSize":24,"titleFontWeight":"normal","titleColor":"#222","titlePadding":9,"titleX":394,"zindex":1}},
"y":{"field":"y","type":"quantitative","scale":{"domain":[0.63,23.92],"nice":false,"zero":false},"axis":{"orient":"left","values":[5,10,15,20],"grid":false,"tickSize":6,"tickColor":"#555","labelFontSize":16,"labelColor":"#222","labelPadding":7,"domainColor":"#333","domainWidth":2,"title":null,"zindex":1}},
"detail":{"field":"p"},"fill":{"field":"b","type":"nominal","legend":null,"scale":{"domain":["-0.15","-0.1","-0.05","-0.025","0","0.05","0.1","0.15","0.2","0.25","0.3","0.35","0.4","0.45","0.5","0.55","0.6"],"range":["#5f5f5f","#757575","#c4c4c4","#dcdcdc","#a6a6a6","#b0b0b0","#909090","#707070","#7e7e7e","#585858","#222222","#242424","#2e2e2e","#5a5a5a","#9a9a9a","#d0d0d0","#ffffff"]}},"order":{"value":null}}},
{"data":{"name":"lines"},"mark":{"type":"line","strokeWidth":1.1,"interpolate":"catmull-rom","clip":true},
"encoding":{"x":{"field":"x","type":"quantitative","axis":null},"y":{"field":"y","type":"quantitative","axis":null},"detail":{"field":"p"},"stroke":{"field":"b","type":"nominal","legend":null,"scale":{"domain":["-0.15","-0.05","-0.025"],"range":["#484848","#c4c4c4","#e8e8e8"]}},"order":{"value":null}}},
{"data":{"name":"labels"},"transform":[{"filter":"datum.t != '0.1'"}],"mark":{"type":"text","font":"Liberation Sans","fontWeight":"bold","fontSize":18,"stroke":"#c4c4c4","strokeWidth":4},
"encoding":{"x":{"field":"x","type":"quantitative","axis":null},"y":{"field":"y","type":"quantitative","axis":null},"text":{"field":"t"},"angle":{"field":"a","type":"quantitative","scale":null}}},
{"data":{"name":"labels"},"mark":{"type":"text","font":"Liberation Sans","fontWeight":"bold","fontSize":18,"fill":"#111"},
"encoding":{"x":{"field":"x","type":"quantitative","axis":null},"y":{"field":"y","type":"quantitative","axis":null},"text":{"field":"t"},"angle":{"field":"a","type":"quantitative","scale":null}}},
{"data":{"name":"labels"},"mark":{"type":"point","opacity":0},
"encoding":{"x":{"field":"x","type":"quantitative","axis":{"orient":"top","values":[10,20,25],"grid":false,"labels":false,"tickSize":7,"tickColor":"#333","domainColor":"#777","domainWidth":2,"title":null,"zindex":1}},
"y":{"field":"y","type":"quantitative","axis":{"orient":"right","values":[5,10,15],"grid":false,"labels":false,"tickSize":7,"tickColor":"#888","domainColor":"#333","domainWidth":2,"title":null,"zindex":1}}}}
]},
{"data":{"name":"levels"},"width":32,"height":736,"mark":{"type":"rect","stroke":"#222","strokeWidth":1},
"encoding":{"y":{"field":"i","type":"quantitative","scale":{"domain":[-3.726,20.76],"nice":false,"zero":false},"axis":{"orient":"right","values":[0,1,2,3,4,5,6,7,8,9,10,11,12,13,14,15,16],"labelExpr":"['-0.15','-0.1','-0.05','-0.025','0','0.05','0.1','0.15','0.2','0.25','0.3','0.35','0.4','0.45','0.5','0.55','0.6'][datum.value]","domain":false,"grid":false,"tickSize":2,"tickColor":"#444","labelFontSize":18,"labelColor":"#222","labelPadding":1,"labelOffset":2,"title":null}},"y2":{"field":"i2"},
"fill":{"field":"b","type":"nominal","legend":null,"scale":{"domain":["-0.15","-0.1","-0.05","-0.025","0","0.05","0.1","0.15","0.2","0.25","0.3","0.35","0.4","0.45","0.5","0.55","0.6"],"range":["#5f5f5f","#757575","#c4c4c4","#dcdcdc","#a6a6a6","#b0b0b0","#909090","#707070","#7e7e7e","#585858","#222222","#242424","#2e2e2e","#5a5a5a","#9a9a9a","#d0d0d0","#ffffff"]}}}}
]}
